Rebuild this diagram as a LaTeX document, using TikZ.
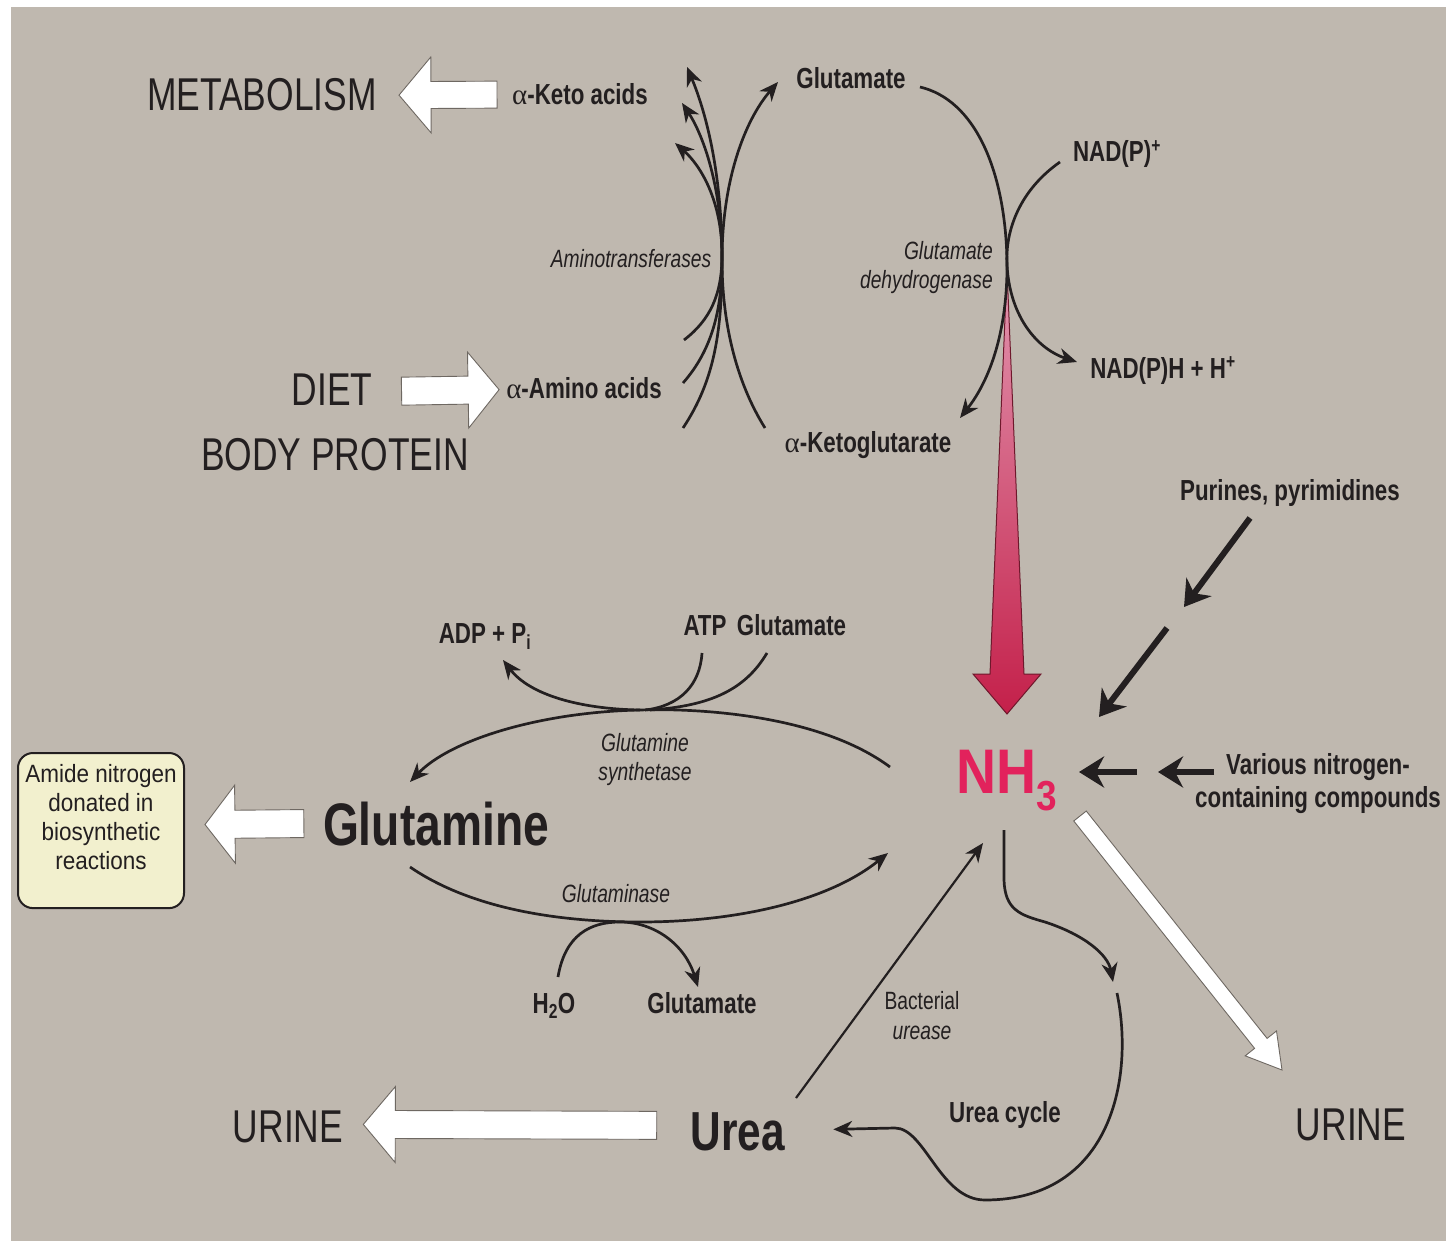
\documentclass[tikz,border=0pt]{standalone}
\usepackage{fontspec}
\setmainfont{Liberation Sans}[FakeStretch=0.77]
\newfontfamily\wideface{Liberation Sans}[FakeStretch=0.9]
\newfontfamily\nhface{Liberation Sans}[FakeStretch=0.88]
\newfontfamily\greekface{Liberation Serif}
\usetikzlibrary{arrows.meta, calc, positioning}

\definecolor{paper}{RGB}{191,184,175}
\definecolor{ink}{RGB}{35,31,32}
\definecolor{edge}{RGB}{110,104,98}
\definecolor{nhred}{RGB}{226,34,92}
\definecolor{boxfill}{RGB}{242,240,206}
\definecolor{pinktop}{RGB}{226,150,176}
\definecolor{pinkbot}{RGB}{196,32,74}
\definecolor{maroon}{RGB}{110,24,44}

\newcommand{\alp}{{\greekface\mdseries\upshape α}}
% white block arrow: from, to, half shaft, half head, head length
\newcommand{\blockarrow}[5]{%
  \coordinate (ba) at ($(#2)!#5!(#1)$);
  \draw[wharrow] ($(#1)!#3!90:(#2)$) -- ($(ba)!#3!90:(#2)$) -- ($(ba)!#4!90:(#2)$) -- (#2)
    -- ($(ba)!#4!-90:(#2)$) -- ($(ba)!#3!-90:(#2)$) -- ($(#1)!#3!-90:(#2)$) -- cycle;}

\begin{document}
\begin{tikzpicture}[x=1pt, y=-1pt,
    lab/.style={font=\fontsize{29}{33}\selectfont\bfseries, text=ink, inner sep=0pt, anchor=base},
    caps/.style={font=\fontsize{46}{50}\selectfont, text=ink, inner sep=0pt, anchor=base},
    enz/.style={font=\fontsize{25}{29}\selectfont\itshape, text=ink, inner sep=0pt, align=center},
    heavy/.style={font=\fontsize{#1}{#1}\selectfont\bfseries, text=ink, inner sep=0pt, anchor=base},
    note/.style={rectangle, rounded corners=15pt, draw=ink, line width=2pt, fill=boxfill,
                 minimum width=166pt, inner ysep=11pt, text depth=28pt, align=center,
                 font=\wideface\fontsize{25}{29}\selectfont, text=ink},
    rxn/.style={draw=ink, line width=2.7pt, -{Stealth[length=19pt, width=16pt, inset=6pt]}},
    fat/.style={draw=ink, line width=6pt, -{Stealth[length=25pt, width=31pt, inset=8pt]}},
    wharrow/.style={fill=white, draw=edge, line width=0.9pt, line join=miter}]

  \fill[white] (0,0) rectangle (1446,1241);
  \fill[paper] (11,7) rectangle (1446,1241);
  \useasboundingbox (0,0) rectangle (1446,1241);

  % top: transamination and oxidative deamination
  \node[caps] (meta) at (262,111) {METABOLISM};
  \node[lab] (keto) at (580,105) {\alp-Keto acids};
  \node[caps] (diet) at (332,405) {DIET};
  \node[caps] (body) at (335,470) {BODY PROTEIN};
  \node[lab] (amino) at (584,398) {\alp-Amino acids};
  \node[enz, anchor=base] (amt) at (631,268) {Aminotransferases};
  \node[lab] (glu1) at (851,89) {Glutamate};
  \node[lab] (nadp) at (1117,162) {NAD(P)\textsuperscript{+}};
  \node[enz, align=right, anchor=east] (gdh) at (993,268) {Glutamate\\dehydrogenase};
  \node[lab] (nadph) at (1163,378) {NAD(P)H + H\textsuperscript{+}};
  \node[lab] (akg) at (868,452) {\alp-Ketoglutarate};

  % ammonia and its sources
  \node[inner sep=0pt, anchor=base, text=nhred, font=\nhface\fontsize{63}{63}\selectfont\bfseries] (nh3) at (1007,793)
    {NH\raisebox{-17pt}{\fontsize{42}{42}\selectfont 3}};
  \node[lab] (pur) at (1290,500) {Purines, pyrimidines};
  \node[lab, anchor=center, align=center] (various) at (1318,784) {Various nitrogen-\\containing compounds};

  % glutamine
  \node[lab] (adp) at (485,643) {ADP + P\textsubscript{i}};
  \node[lab] (atp) at (705,635) {ATP};
  \node[lab, right=10pt of atp] (glu2) {Glutamate};
  \node[enz] (gs) at (645,760) {Glutamine\\synthetase};
  \node[heavy=60] (gln) at (436,845) {Glutamine};
  \node[enz, anchor=base] (gase) at (616,902) {Glutaminase};
  \node[lab] (h2o) at (554,1013) {H\textsubscript{2}O};
  \node[lab] (glu3) at (702,1013) {Glutamate};
  \node[note, anchor=north west] (amide) at (17,752) {Amide nitrogen\\donated in\\biosynthetic\\reactions};

  % urea
  \node[heavy=55] (urea) at (738,1150) {Urea};
  \node[caps] (urine1) at (288,1142) {URINE};
  \node[caps] (urine2) at (1351,1140) {URINE};
  \node[inner sep=0pt, align=center, text=ink, font=\fontsize{25}{30}\selectfont] (bact) at (922,1016) {Bacterial\\\textit{urease}};
  \node[lab] (ucyc) at (1005,1122) {Urea cycle};

  % pink arrow into NH3
  \coordinate (gdhx) at (1007,270);
  \coordinate (nhtip) at (1007,714);
  \shadedraw[top color=pinktop, bottom color=pinkbot, draw=maroon, line width=1pt, line join=miter]
    (gdhx) -- ($(nhtip)+(17,-40)$) -- ($(nhtip)+(34,-40)$) -- (nhtip)
    -- ($(nhtip)+(-34,-40)$) -- ($(nhtip)+(-17,-40)$) -- cycle;

  % white block arrows
  \coordinate (ketoL) at ($(keto.west)+(-15,0)$);
  \coordinate (metaR) at ($(meta.east)+(22,0)$);
  \blockarrow{ketoL}{metaR}{13.5pt}{38pt}{32pt}
  \coordinate (dietR) at ($(diet.east)+(29,2)$);
  \coordinate (aminoL) at ($(amino.west)+(-7,2)$);
  \blockarrow{dietR}{aminoL}{14pt}{38pt}{31pt}
  \coordinate (glnL) at ($(gln.west)+(-19,0)$);
  \coordinate (amideR) at ($(amide.east)+(20,-6)$);
  \blockarrow{glnL}{amideR}{14pt}{39pt}{30pt}
  \coordinate (ureaL) at ($(urea.west)+(-34,-6)$);
  \coordinate (urineR) at ($(urine1.east)+(20,-2)$);
  \blockarrow{ureaL}{urineR}{14pt}{38pt}{32pt}
  \coordinate (nhout) at (1080,816);
  \coordinate (urinein) at (1282,1070);
  \blockarrow{nhout}{urinein}{8pt}{20pt}{34pt}

  % aminotransferases
  \coordinate (aa1) at (683,428); \coordinate (ka1) at (687,67);
  \coordinate (aa2) at (683,383); \coordinate (ka2) at (682,103);
  \coordinate (aa3) at (684,340); \coordinate (ka3) at (675,143);
  \coordinate (kgin) at (765,428); \coordinate (gluout) at (778,82);
  \draw[rxn] (aa1) .. controls (715,380) and (722,330) .. (722,260) .. controls (722,170) and (705,110) .. (ka1);
  \draw[rxn] (aa2) .. controls (712,350) and (722,310) .. (722,260) .. controls (722,180) and (700,130) .. (ka2);
  \draw[rxn] (aa3) .. controls (710,320) and (722,295) .. (722,255) .. controls (722,200) and (700,165) .. (ka3);
  \draw[rxn] (kgin) .. controls (735,380) and (722,320) .. (722,260) .. controls (722,180) and (745,120) .. (gluout);

  % glutamate dehydrogenase
  \coordinate (gluin) at (920,87); \coordinate (akgout) at (960,418);
  \coordinate (nadin) at (1060,162); \coordinate (nadhout) at (1077,362);
  \draw[rxn] (gluin) .. controls (975,100) and (1005,170) .. (1007,260) .. controls (1008,330) and (990,380) .. (akgout);
  \draw[rxn] (nadin) .. controls (1020,190) and (1005,230) .. (1007,265) .. controls (1010,320) and (1040,350) .. (nadhout);

  % inputs to NH3
  \coordinate (pa1) at (1250,518); \coordinate (pa2) at (1184,607);
  \coordinate (pb1) at (1167,628); \coordinate (pb2) at (1099,717);
  \draw[fat] (pa1) -- (pa2);
  \draw[fat] (pb1) -- (pb2);
  \coordinate (va1) at (1214,772); \coordinate (va2) at (1158,772);
  \coordinate (vb1) at (1137,772); \coordinate (vb2) at (1079,772);
  \draw[fat] (va1) -- (va2);
  \draw[fat] (vb1) -- (vb2);

  % glutamine synthetase
  \coordinate (gsin) at (890,767); \coordinate (gsout) at (410,782);
  \draw[rxn] (gsin) .. controls (820,715) and (700,708) .. (640,710) .. controls (540,712) and (450,740) .. (gsout);
  \draw[draw=ink, line width=2.7pt] (702,653) .. controls (700,685) and (680,706) .. (645,710);
  \draw[draw=ink, line width=2.7pt] (767,653) .. controls (745,690) and (710,706) .. (650,710);
  \coordinate (adpin) at (503,660);
  \draw[rxn] (640,710) .. controls (580,709) and (530,695) .. (adpin);

  % glutaminase
  \coordinate (gasein) at (410,867); \coordinate (gaseout) at (888,853);
  \draw[rxn] (gasein) .. controls (480,915) and (580,922) .. (640,922) .. controls (740,922) and (830,900) .. (gaseout);
  \coordinate (h2oup) at (558,977); \coordinate (glu3in) at (698,987);
  \draw[rxn] (h2oup) .. controls (565,935) and (590,922) .. (620,922) .. controls (655,922) and (685,945) .. (glu3in);

  % urea cycle and bacterial urease
  \coordinate (ureaup) at (796,1098); \coordinate (nhdown) at (983,843);
  \draw[draw=ink, line width=2.2pt, -{Stealth[length=19pt, width=16pt, inset=6pt]}] (ureaup) -- (nhdown);
  \coordinate (uc0) at (1004,830); \coordinate (uc1) at (1113,982);
  \draw[rxn] (uc0) -- (1004,880) .. controls (1005,910) and (1020,915) .. (1045,922) .. controls (1085,935) and (1108,955) .. (uc1);
  \coordinate (uc2) at (1117,993); \coordinate (ureain) at ($(urea.east)+(48,-2)$);
  \draw[rxn] (uc2) .. controls (1135,1080) and (1110,1200) .. (985,1200) .. controls (940,1200) and (925,1128) .. (895,1128) -- (ureain);
\end{tikzpicture}
\end{document}
